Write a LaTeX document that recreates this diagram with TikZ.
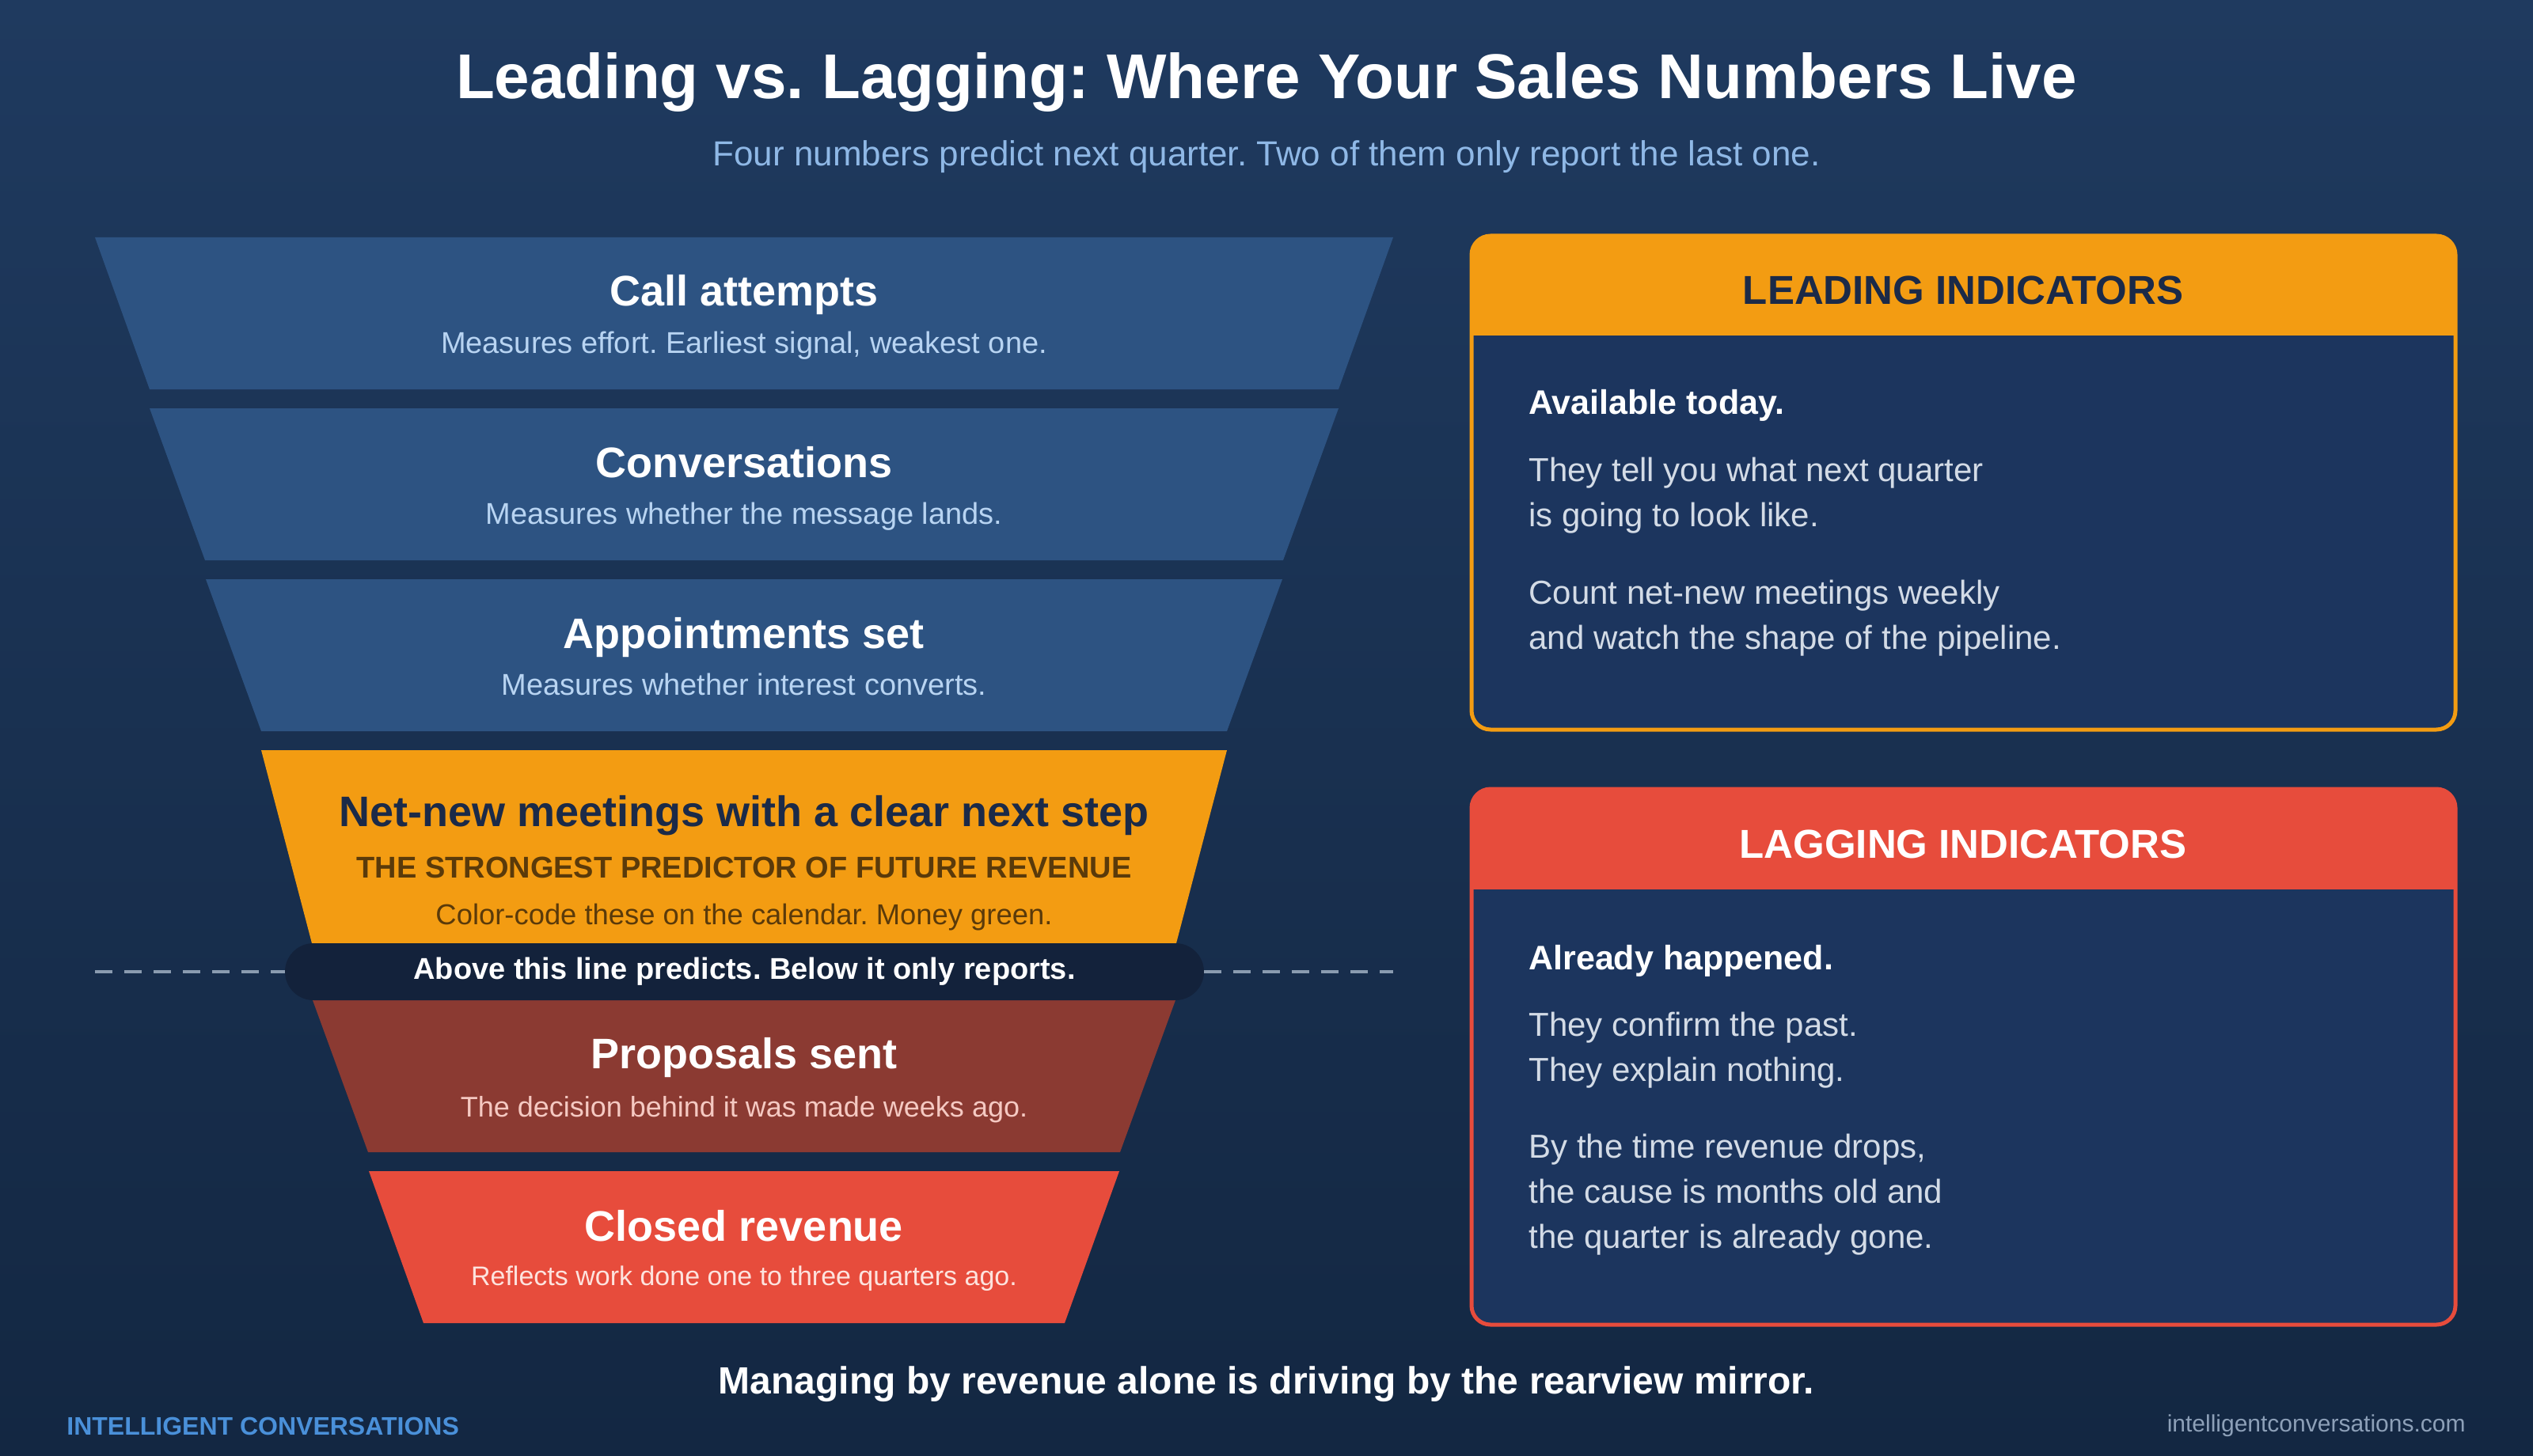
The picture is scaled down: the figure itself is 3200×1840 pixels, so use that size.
\documentclass[tikz,border=0pt]{standalone}
\usepackage{fontspec}
\setmainfont{Liberation Sans}
\frenchspacing

\definecolor{bgtop}{HTML}{1F3A5F}
\definecolor{bgbot}{HTML}{132742}
\definecolor{segblue}{HTML}{2D5382}
\definecolor{segbrown}{HTML}{8B3A32}
\definecolor{segred}{HTML}{E74C3C}
\definecolor{segorange}{HTML}{F39C12}
\definecolor{pillnavy}{HTML}{13223B}
\definecolor{boxnavy}{HTML}{1C355E}
\definecolor{inknavy}{HTML}{1B2A48}
\definecolor{inkbrown}{HTML}{5A3A0A}
\definecolor{subblue}{HTML}{8FB8E6}
\definecolor{segsubblue}{HTML}{B8D4F2}
\definecolor{subpink}{HTML}{F5C9C2}
\definecolor{subrose}{HTML}{FDE3DE}
\definecolor{bodygray}{HTML}{D3DBE6}
\definecolor{dashgray}{HTML}{8A9BB0}
\definecolor{brandblue}{HTML}{4A90D9}
\definecolor{urlgray}{HTML}{8DA0B8}

\begin{document}
\begin{tikzpicture}[x=0.5pt, y=-0.5pt, every node/.style={align=center, inner sep=0pt},
    segtitle/.style={font=\bfseries\fontsize{27}{32}\selectfont, text=white},
    segsub/.style={font=\fontsize{19}{23}\selectfont, text=segsubblue},
    hdr/.style={font=\bfseries\fontsize{25.5}{30}\selectfont},
    leadline/.style={font=\bfseries\fontsize{21.5}{26}\selectfont, text=white, anchor=west},
    body/.style={font=\fontsize{21}{28.5}\selectfont, text=bodygray, anchor=west, align=left},
    divline/.style={dashgray, line width=1.6pt, dash pattern=on 11pt off 7.5pt}]

    % background
    \shade[top color=bgtop, bottom color=bgbot] (0,0) rectangle (3200,1840);

    % heading
    \node[font=\bfseries\fontsize{40}{48}\selectfont, text=white] (title) at (1600,104) {Leading vs. Lagging: Where Your Sales Numbers Live};
    \node[font=\fontsize{22}{26}\selectfont, text=subblue] (subtitle) at (1600,198) {Four numbers predict next quarter. Two of them only report the last one.};

    % funnel
    \fill[segblue] (120,300) -- (1760,300) -- (1691,492) -- (189,492) -- cycle;
    \fill[segblue] (189,516) -- (1691,516) -- (1621,708) -- (259,708) -- cycle;
    \fill[segblue] (260,732) -- (1620,732) -- (1550,924) -- (330,924) -- cycle;
    \fill[segorange] (330,948) -- (1550,948) -- (1486,1192) -- (394,1192) -- cycle;
    \fill[segbrown] (395,1264) -- (1485,1264) -- (1415,1456) -- (465,1456) -- cycle;
    \fill[segred] (466,1480) -- (1414,1480) -- (1345,1672) -- (535,1672) -- cycle;

    \node[segtitle] (calls) at (940,373) {Call attempts};
    \node[segsub] (callsub) at (940,437) {Measures effort. Earliest signal, weakest one.};
    \node[segtitle] (convs) at (940,584) {Conversations};
    \node[segsub] (convsub) at (940,653) {Measures whether the message lands.};
    \node[segtitle] (appts) at (940,806) {Appointments set};
    \node[segsub] (apptsub) at (940,865) {Measures whether interest converts.};
    \node[segtitle, text=inknavy] (netnew) at (940,1031) {Net-new meetings with a clear next step};
    \node[font=\bfseries\fontsize{19}{23}\selectfont, text=inkbrown] (strongest) at (940,1096) {THE STRONGEST PREDICTOR OF FUTURE REVENUE};
    \node[segsub, font=\fontsize{18.2}{22}\selectfont, text=inkbrown] (netsub) at (940,1159) {Color-code these on the calendar. Money green.};
    \node[segtitle] (props) at (940,1337) {Proposals sent};
    \node[segsub, font=\fontsize{18}{22}\selectfont, text=subpink] (propsub) at (940,1402) {The decision behind it was made weeks ago.};
    \node[segtitle] (closed) at (940,1549) {Closed revenue};
    \node[segsub, font=\fontsize{17}{21}\selectfont, text=subrose] (closedsub) at (940,1616) {Reflects work done one to three quarters ago.};

    % divider
    \node[fill=pillnavy, rounded corners=18pt, minimum width=580.5pt, minimum height=36pt,
          font=\bfseries\fontsize{19}{23}\selectfont, text=white] (divider) at (940.5,1228) {Above this line predicts. Below it only reports.};
    \coordinate (dl) at (120,1228);
    \coordinate (dr) at (1760,1228);
    \draw[divline] (dl) -- (divider.west);
    \draw[divline] (divider.east) -- (dr);

    % leading box
    \fill[boxnavy, rounded corners=12pt] (1859,298) rectangle (3102,922);
    \begin{scope}
        \clip[rounded corners=12pt] (1859,298) rectangle (3102,922);
        \fill[segorange] (1859,298) rectangle (3102,424);
    \end{scope}
    \draw[segorange, line width=2.5pt, rounded corners=12pt] (1859,298) rectangle (3102,922);
    \node[hdr, text=inknavy] (leadhdr) at (2480,367) {LEADING INDICATORS};
    \node[leadline] (leadtop) at (1931,512) {Available today.};
    \node[body] (leadp1) at (1931,626) {They tell you what next quarter\\is going to look like.};
    \node[body] (leadp2) at (1931,781) {Count net-new meetings weekly\\and watch the shape of the pipeline.};

    % lagging box
    \fill[boxnavy, rounded corners=12pt] (1859,997) rectangle (3102,1674);
    \begin{scope}
        \clip[rounded corners=12pt] (1859,997) rectangle (3102,1674);
        \fill[segred] (1859,997) rectangle (3102,1124);
    \end{scope}
    \draw[segred, line width=2.5pt, rounded corners=12pt] (1859,997) rectangle (3102,1674);
    \node[hdr, text=white] (laghdr) at (2480,1067) {LAGGING INDICATORS};
    \node[leadline] (lagtop) at (1931,1214) {Already happened.};
    \node[body] (lagp1) at (1931,1327) {They confirm the past.\\They explain nothing.};
    \node[body] (lagp2) at (1931,1510) {By the time revenue drops,\\the cause is months old and\\the quarter is already gone.};

    % footer
    \node[font=\bfseries\fontsize{24}{29}\selectfont, text=white] (moral) at (1600,1749) {Managing by revenue alone is driving by the rearview mirror.};
    \node[font=\bfseries\fontsize{16}{19}\selectfont, text=brandblue, anchor=west] (brand) at (84,1802) {INTELLIGENT CONVERSATIONS};
    \node[font=\fontsize{15}{18}\selectfont, text=urlgray, anchor=east] (url) at (3115,1802) {intelligentconversations.com};
\end{tikzpicture}
\end{document}
